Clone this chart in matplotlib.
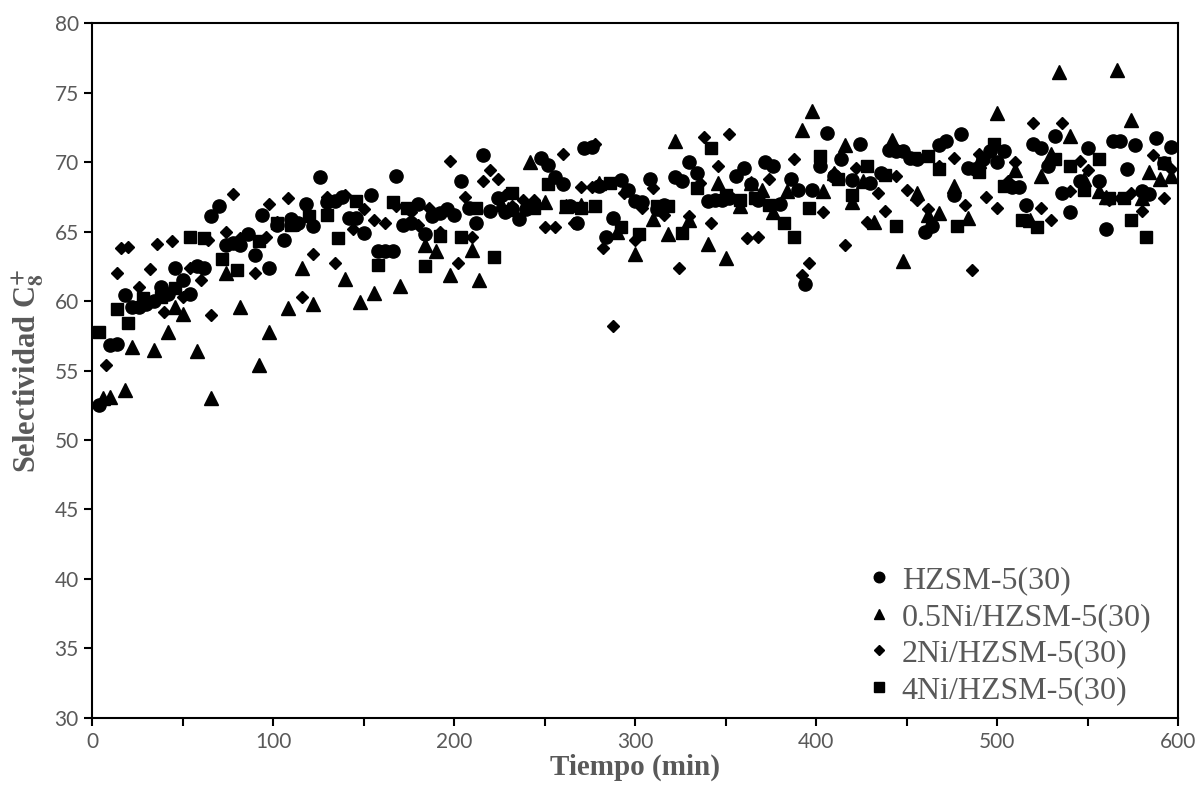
import numpy as np
import matplotlib
matplotlib.use("Agg")
import matplotlib.pyplot as plt
from matplotlib.ticker import MultipleLocator

# =========================
# DONNEES
# =========================
t_hz = [4, 10, 14, 18, 22, 26, 30, 34, 38, 42, 46, 50, 54, 58, 62, 66, 70, 74, 78, 82,
        86, 90, 94, 98, 102, 106, 110, 114, 118, 122, 126, 130, 134, 138, 142, 146, 150,
        154, 158, 162, 166, 168, 172, 176, 180, 184, 188, 192, 196, 200, 204, 208, 212,
        216, 220, 224, 228, 232, 236, 240, 244, 248, 252, 256, 260, 264, 268, 272, 276,
        280, 284, 288, 292, 296, 300, 304, 308, 312, 316, 322, 326, 330, 334, 340, 344,
        348, 352, 356, 360, 364, 368, 372, 376, 380, 386, 390, 394, 398, 402, 406, 410,
        414, 420, 424, 430, 436, 440, 444, 448, 452, 456, 460, 464, 468, 472, 476, 480,
        484, 488, 492, 496, 500, 504, 508, 512, 516, 520, 524, 528, 532, 536, 540, 546,
        550, 556, 560, 564, 568, 572, 576, 580, 584, 588, 592, 596]
s_hz = [52.5, 56.8, 56.9, 60.4, 59.6, 59.6, 59.8, 60.0, 61.0, 60.5, 62.4, 61.5, 60.5,
        62.5, 62.4, 66.1, 66.8, 64.0, 64.2, 64.0, 64.8, 63.3, 66.2, 62.4, 65.5, 64.4,
        65.9, 65.6, 67.0, 65.4, 68.9, 67.1, 67.2, 67.5, 66.0, 66.0, 64.9, 67.6, 63.6,
        63.6, 63.6, 69.0, 65.5, 65.6, 67.0, 64.8, 66.1, 66.3, 66.6, 66.2, 68.6, 66.7,
        65.6, 70.5, 66.5, 67.4, 66.4, 66.6, 65.9, 66.6, 67.0, 70.3, 69.8, 68.9, 68.4,
        66.8, 65.6, 71.0, 71.1, 68.3, 64.6, 66.0, 68.7, 68.0, 67.2, 67.1, 68.8, 66.6,
        66.9, 68.9, 68.6, 70.0, 69.2, 67.2, 67.3, 67.3, 67.4, 69.0, 69.6, 68.4, 67.3,
        70.0, 69.7, 67.0, 68.8, 68.0, 61.2, 68.0, 69.7, 72.1, 69.0, 70.2, 68.7, 71.3,
        68.5, 69.2, 70.9, 70.8, 70.8, 70.3, 70.2, 65.0, 65.4, 71.2, 71.5, 67.6, 72.0,
        69.6, 69.5, 70.2, 70.8, 70.0, 70.8, 68.2, 68.2, 66.9, 71.3, 71.0, 69.7, 71.9,
        67.8, 66.4, 68.6, 71.0, 68.6, 65.2, 71.5, 71.5, 69.5, 71.2, 67.9, 67.7, 71.7,
        69.9, 71.1]

t_05 = [6, 10, 18, 22, 34, 42, 46, 50, 58, 66, 74, 82, 92, 98, 108, 116, 122, 140, 148,
        156, 170, 184, 190, 198, 210, 214, 226, 230, 242, 250, 262, 270, 280, 290, 300,
        310, 318, 322, 330, 340, 346, 350, 358, 364, 370, 376, 384, 392, 398, 404, 410,
        416, 420, 426, 432, 442, 448, 456, 462, 468, 476, 484, 490, 500, 510, 518, 524,
        530, 534, 540, 548, 556, 560, 566, 574, 580, 584, 590, 596]
s_05 = [53.0, 53.1, 53.6, 56.7, 56.5, 57.8, 59.6, 59.1, 56.4, 53.0, 62.0, 59.6, 55.4,
        57.8, 59.5, 62.4, 59.8, 61.6, 59.9, 60.6, 61.1, 64.0, 63.6, 61.9, 63.7, 61.5,
        67.0, 66.6, 70.0, 67.1, 66.8, 66.9, 68.5, 65.0, 63.4, 65.9, 64.8, 71.5, 65.8,
        64.1, 68.5, 63.1, 66.8, 68.5, 68.0, 66.4, 67.9, 72.3, 73.7, 67.9, 69.2, 71.2,
        67.1, 68.6, 65.7, 71.6, 62.9, 67.8, 66.2, 66.3, 68.3, 66.0, 70.1, 73.5, 69.4,
        65.8, 69.0, 70.6, 76.5, 71.9, 68.8, 67.9, 67.5, 76.6, 73.0, 67.4, 69.3, 68.8,
        69.0]

t_2 = [8, 14, 16, 20, 26, 32, 36, 40, 44, 50, 54, 60, 64, 66, 74, 78, 82, 90, 96, 98,
       102, 108, 114, 116, 122, 130, 134, 140, 144, 150, 156, 162, 168, 176, 180, 186,
       192, 198, 202, 206, 210, 216, 220, 224, 228, 232, 238, 244, 250, 256, 260, 266,
       270, 276, 278, 282, 288, 294, 300, 304, 310, 316, 324, 330, 336, 338, 342, 346,
       352, 358, 362, 368, 374, 380, 388, 392, 396, 404, 410, 416, 422, 428, 434, 438,
       444, 450, 456, 462, 468, 476, 482, 486, 490, 494, 500, 506, 510, 516, 520, 524,
       530, 536, 540, 546, 550, 556, 562, 568, 574, 580, 586, 592, 596]
s_2 = [55.4, 62.0, 63.8, 63.9, 61.0, 62.3, 64.1, 59.2, 64.3, 60.3, 62.4, 61.5, 64.4,
       59.0, 65.0, 67.7, 64.5, 62.0, 64.6, 67.0, 65.7, 67.4, 65.5, 60.3, 63.4, 67.5,
       62.7, 67.6, 65.2, 66.6, 65.8, 65.6, 66.8, 66.4, 65.5, 66.7, 65.0, 70.1, 62.7,
       67.5, 64.6, 68.6, 69.4, 68.8, 67.6, 66.8, 67.3, 67.3, 65.3, 65.3, 70.6, 65.6,
       68.2, 68.2, 71.3, 63.8, 58.2, 67.8, 64.4, 66.7, 68.1, 66.2, 62.4, 66.1, 68.5,
       71.8, 65.6, 69.7, 72.0, 67.1, 64.5, 64.6, 68.8, 67.0, 70.2, 61.9, 62.7, 66.4,
       69.2, 64.0, 69.6, 65.7, 67.8, 66.5, 69.0, 68.0, 67.3, 66.6, 69.7, 70.3, 66.9,
       62.2, 70.6, 67.5, 66.7, 68.6, 70.0, 66.8, 72.8, 66.7, 65.8, 72.8, 67.9, 70.1,
       69.4, 68.5, 67.3, 67.4, 67.8, 66.5, 70.5, 67.4, 69.5]

t_4 = [4, 14, 20, 28, 38, 46, 54, 62, 72, 80, 92, 102, 110, 120, 130, 136, 146, 158,
       166, 174, 184, 192, 204, 212, 222, 232, 244, 252, 262, 270, 278, 286, 292, 302,
       312, 318, 326, 334, 342, 350, 358, 366, 374, 382, 388, 396, 402, 412, 420, 428,
       438, 444, 454, 462, 468, 478, 490, 498, 504, 514, 522, 532, 540, 548, 556, 562,
       570, 574, 582, 592]
s_4 = [57.8, 59.4, 58.4, 60.2, 60.3, 60.9, 64.6, 64.5, 63.0, 62.2, 64.3, 65.6, 65.5,
       66.1, 66.2, 64.5, 67.2, 62.6, 67.1, 66.7, 62.5, 64.7, 64.6, 66.7, 63.2, 67.8,
       66.7, 68.4, 66.8, 66.7, 66.8, 68.5, 65.3, 64.8, 66.8, 66.8, 64.9, 68.1, 71.0,
       67.6, 67.3, 67.4, 66.9, 65.6, 64.6, 66.7, 70.4, 68.8, 67.6, 69.7, 69.1, 65.4,
       70.3, 70.4, 69.5, 65.4, 69.3, 71.3, 68.3, 65.8, 65.3, 70.2, 69.7, 68.0, 70.2,
       67.4, 67.4, 65.8, 64.6, 69.9]

GRIS = "#595959"
SERIF = ["Liberation Serif", "DejaVu Serif"]

plt.rcParams["mathtext.fontset"] = "stix"

# =========================
# GRAPHIQUE
# =========================
fig = plt.figure(figsize=(12.01, 7.91), dpi=100)
ax = fig.add_axes([0.0766, 0.0923, 0.9044, 0.8786])

ax.plot(t_hz, s_hz, "o", color="black", ms=9.5, label="HZSM-5(30)")
ax.plot(t_05, s_05, "^", color="black", ms=9.5, label="0.5Ni/HZSM-5(30)")
ax.plot(t_2, s_2, "D", color="black", ms=6.5, label="2Ni/HZSM-5(30)")
ax.plot(t_4, s_4, "s", color="black", ms=9, label="4Ni/HZSM-5(30)")

ax.set_xlim(0, 600)
ax.set_ylim(30, 80)
ax.xaxis.set_major_locator(MultipleLocator(100))
ax.xaxis.set_minor_locator(MultipleLocator(50))
ax.yaxis.set_major_locator(MultipleLocator(5))

ax.tick_params(axis="both", which="both", direction="out", length=6, width=1.5,
               color="black", labelcolor=GRIS, labelsize=15)
ax.tick_params(axis="x", pad=4)
for lab in ax.get_xticklabels() + ax.get_yticklabels():
    lab.set_family(["Lato", "DejaVu Sans"])
for sp in ax.spines.values():
    sp.set_linewidth(1.5)
    sp.set_color("black")

ax.set_xlabel("Tiempo (min)", family=SERIF, fontsize=21, fontweight="bold",
              color=GRIS, labelpad=1)
ax.set_ylabel(r"Selectividad C$_{\mathbf{8}}^{\mathbf{+}}$", family=SERIF, fontsize=22,
              fontweight="bold", color=GRIS, labelpad=6)

leg = ax.legend(loc="lower right", frameon=False, markerscale=0.8,
                prop={"family": SERIF, "size": 23}, labelcolor=GRIS,
                handlelength=0.6, handletextpad=0.4, labelspacing=0.22,
                borderpad=0.0, bbox_to_anchor=(0.99, -0.004))

fig.savefig("out.png", dpi=100)
